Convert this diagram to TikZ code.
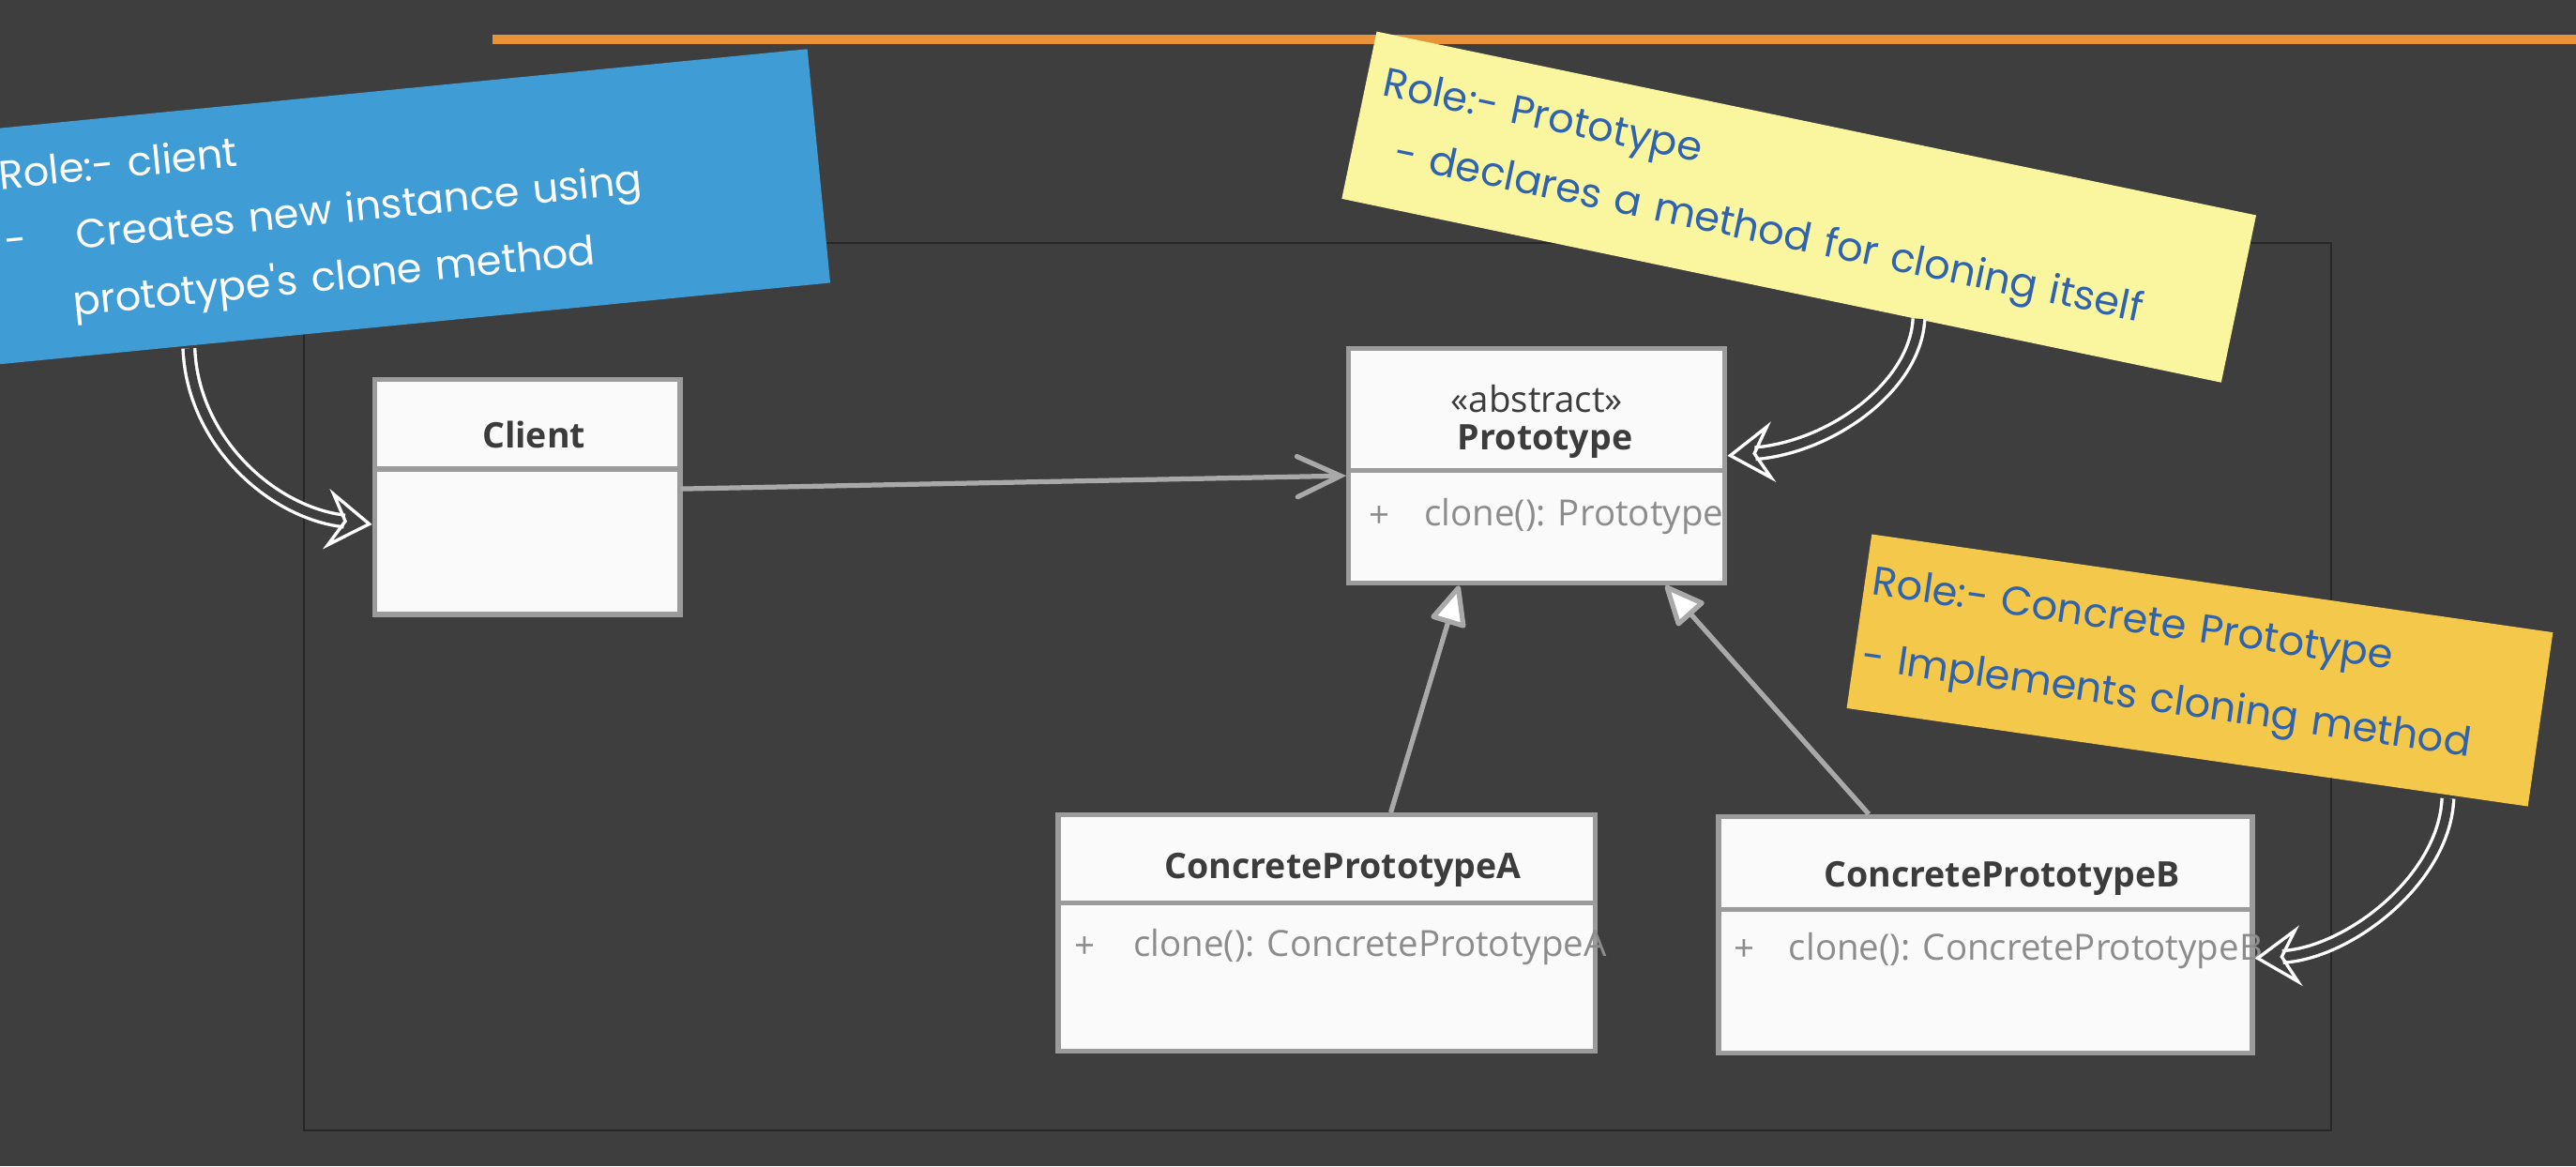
\documentclass[tikz,border=0pt]{standalone}
\usepackage{fontspec}
\setmainfont{Open Sans}
\newfontfamily\handfont{Poppins}
\usetikzlibrary{calc, arrows.meta, positioning}

\definecolor{bgcol}{HTML}{3E3E3E}
\definecolor{barorange}{HTML}{E8933A}
\definecolor{noteblue}{HTML}{3F9CD4}
\definecolor{noteyellow}{HTML}{FAF6A0}
\definecolor{notegold}{HTML}{F4C84A}
\definecolor{inkblue}{HTML}{2F63AE}
\definecolor{boxline}{HTML}{9B9B9B}
\definecolor{boxfill}{HTML}{FAFAFA}
\definecolor{linkgray}{HTML}{A9A9A9}
\definecolor{titlegray}{HTML}{3C3C3C}
\definecolor{membergray}{HTML}{8C8C8C}

\tikzset{
  umlbox/.style={draw=boxline, line width=1.7pt, fill=boxfill, inner sep=0pt},
  divider/.style={draw=boxline, line width=1.7pt},
  umltitle/.style={font=\fontsize{12.2}{14}\selectfont\bfseries, text=titlegray, inner sep=0pt},
  umlstereo/.style={font=\fontsize{12.5}{14}\selectfont, text=titlegray, inner sep=0pt},
  umlmember/.style={font=\fontsize{12.5}{14}\selectfont, text=membergray, inner sep=0pt},
  rolenote/.style={rotate=#1, inner ysep=0pt, align=left, font=\handfont\fontsize{14}{23}\selectfont},
  assocarrow/.style={draw=linkgray, line width=1.7pt, line cap=round, -{Straight Barb[length=15pt, width=14pt, line cap=round]}},
  genarrow/.style={draw=linkgray, line width=1.7pt, -{Triangle[length=15pt, width=13pt, fill=white, line join=round]}},
  calloutarrow/.style={draw=white, line width=1.1pt, double=bgcol, double distance=3pt, -{Stealth[open, length=16pt, width=21pt, inset=6pt]}},
}

\begin{document}
\begin{tikzpicture}[x=0.02cm, y=-0.02cm]
  % Background and frame
  \fill[bgcol] (0,0) rectangle (1568,710);
  \useasboundingbox (0,0) rectangle (1568,710);
  \fill[barorange] (300,21) rectangle (1568,27);
  \draw[black!85, line width=0.6pt] (185,148) rectangle (1419,688);

  % Define classes
  \node[umlbox, minimum width=3.72cm, minimum height=2.86cm] (client) at (321,302.5) {};
  \node[umlbox, minimum width=4.58cm, minimum height=2.86cm] (proto) at (935.5,283.5) {};
  \node[umlbox, minimum width=6.54cm, minimum height=2.88cm] (cpa) at (807.5,568) {};
  \node[umlbox, minimum width=6.5cm, minimum height=2.88cm] (cpb) at (1208.5,569) {};

  % Compartment lines
  \draw[divider] ($(client.north west)+(0,56)$) -- ($(client.north east)+(0,56)$);
  \draw[divider] ($(proto.north west)+(0,76)$) -- ($(proto.north east)+(0,76)$);
  \draw[divider] ($(cpa.north west)+(0,55)$) -- ($(cpa.north east)+(0,55)$);
  \draw[divider] ($(cpb.north west)+(0,58)$) -- ($(cpb.north east)+(0,58)$);

  % Class names and members
  \node[umltitle] (clientname) at ($(client.north)+(4,35)$) {Client};
  \node[umlstereo] (protostereo) at ($(proto.north)+(0,32)$) {«abstract»};
  \node[umltitle] (protoname) at ($(proto.north)+(5,58)$) {Prototype};
  \node[umlmember] (protoplus) at ($(proto.north west)+(20,104)$) {+};
  \node[umlmember, anchor=west] (protoclone) at ($(proto.north west)+(47,104)$) {clone(): Prototype};
  \node[umltitle] (cpaname) at ($(cpa.north)+(10,35)$) {ConcretePrototypeA};
  \node[umlmember] (cpaplus) at ($(cpa.north west)+(18,82)$) {+};
  \node[umlmember, anchor=west] (cpaclone) at ($(cpa.north west)+(47,82)$) {clone(): ConcretePrototypeA};
  \node[umltitle] (cpbname) at ($(cpb.north)+(10,39)$) {ConcretePrototypeB};
  \node[umlmember] (cpbplus) at ($(cpb.north west)+(17,83)$) {+};
  \node[umlmember, anchor=west] (cpbclone) at ($(cpb.north west)+(44,83)$) {clone(): ConcretePrototypeB};

  % Relations
  \draw[assocarrow] (client.3) -- (proto.183);
  \draw[genarrow] (cpa.62) -- (proto.237);
  \draw[genarrow] (cpb.134) -- (proto.317);

  % Role notes
  \node[rolenote=5.6, fill=noteblue, text=white, minimum height=2.86cm, text width=8.7cm, inner xsep=1.25cm] (clientnote) at (219.8,128.3)
    {Role:- client\\-\hspace{0.6cm}Creates new instance using\\\hspace{0.75cm}prototype's clone method};
  \node[rolenote=-11.8, fill=noteyellow, text=inkblue, minimum height=2.08cm, text width=10.5cm, inner xsep=0.22cm] (protonote) at (1095,126)
    {Role:- Prototype\\\hspace{0.3cm}- declares a method for cloning itself};
  \node[rolenote=-8.2, fill=notegold, text=inkblue, minimum height=2.14cm, text width=8.18cm, inner xsep=0.1cm] (cpnote) at (1339,408)
    {Role:- Concrete Prototype\\[3pt]- Implements cloning method};

  % Pointers from the notes
  \coordinate (clienttail) at (115,212);
  \coordinate (prototail) at (1168,194);
  \coordinate (cptail) at (1490,486);
  \draw[calloutarrow] (clienttail) .. controls (117,268) and (165,312) .. (client.190);
  \draw[calloutarrow] (prototail) .. controls (1166,235) and (1115,272) .. (proto.3);
  \draw[calloutarrow] (cptail) .. controls (1488,535) and (1430,580) .. (cpb.355);
\end{tikzpicture}
\end{document}
